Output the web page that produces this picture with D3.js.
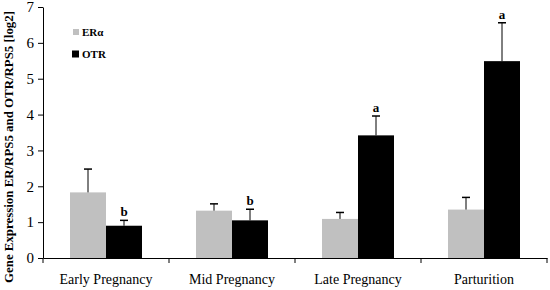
<!DOCTYPE html>
<html>
<head>
<meta charset="utf-8">
<script src="https://cdn.jsdelivr.net/npm/d3@7"></script>
<style>
  html, body { margin: 0; padding: 0; background: #fff; }
  svg text { font-family: "Liberation Serif", "DejaVu Serif", serif; }
</style>
</head>
<body>
<div id="chart"></div>
<script>
const stages = ['Early Pregnancy', 'Mid Pregnancy', 'Late Pregnancy', 'Parturition'];
const seriesNames = ['ERα', 'OTR'];
const eraMeans = [1.83, 1.32, 1.09, 1.35];
const eraErrors = [0.65, 0.19, 0.18, 0.34];
const otrMeans = [0.90, 1.05, 3.42, 5.49];
const otrErrors = [0.15, 0.31, 0.54, 1.07];
const otrLetters = ['b', 'b', 'a', 'a'];
const yTicks = [0, 1, 2, 3, 4, 5, 6, 7];

const COLORS = { 'ERα': '#c0c0c0', 'OTR': '#000000' };

const width = 550, height = 290;
const MARGIN = { top: 7, right: 3, bottom: 32, left: 43 };
const innerW = width - MARGIN.left - MARGIN.right;
const innerH = height - MARGIN.top - MARGIN.bottom;

const rows = stages.map((s, i) => ({
  stage: s,
  bars: [
    { key: 'ERα', value: eraMeans[i], err: eraErrors[i], letter: null },
    { key: 'OTR', value: otrMeans[i], err: otrErrors[i], letter: otrLetters[i] }
  ]
}));

const svg = d3.select('#chart').append('svg')
  .attr('width', width)
  .attr('height', height);

const g = svg.append('g').attr('transform', `translate(${MARGIN.left},${MARGIN.top})`);

const x0 = d3.scaleBand().domain(stages).range([0, innerW]).paddingInner(0).paddingOuter(0);
const x1 = d3.scaleBand().domain(seriesNames).range([0, 72]).padding(0);
const y = d3.scaleLinear().domain([0, 7]).range([innerH, 0]);

// bars
const groups = g.selectAll('.grp').data(rows).enter().append('g')
  .attr('transform', d => `translate(${x0(d.stage) + (x0.bandwidth() - 72) / 2},0)`);

groups.selectAll('rect').data(d => d.bars).enter().append('rect')
  .attr('x', d => x1(d.key))
  .attr('y', d => y(d.value))
  .attr('width', x1.bandwidth())
  .attr('height', d => y(0) - y(d.value))
  .attr('fill', d => COLORS[d.key]);

// error bars (upper only)
const errs = groups.selectAll('.err').data(d => d.bars).enter().append('g').attr('class', 'err');
errs.append('line')
  .attr('x1', d => x1(d.key) + x1.bandwidth() / 2)
  .attr('x2', d => x1(d.key) + x1.bandwidth() / 2)
  .attr('y1', d => y(d.value))
  .attr('y2', d => y(d.value + d.err))
  .attr('stroke', '#000').attr('stroke-width', 1);
errs.append('line')
  .attr('x1', d => x1(d.key) + x1.bandwidth() / 2 - 4)
  .attr('x2', d => x1(d.key) + x1.bandwidth() / 2 + 4)
  .attr('y1', d => y(d.value + d.err))
  .attr('y2', d => y(d.value + d.err))
  .attr('stroke', '#000').attr('stroke-width', 1.5);

// significance letters
groups.selectAll('.lt').data(d => d.bars.filter(b => b.letter)).enter().append('text')
  .attr('x', d => x1(d.key) + x1.bandwidth() / 2)
  .attr('y', d => y(d.value + d.err) - 4)
  .attr('text-anchor', 'middle')
  .style('font-size', '13px')
  .style('font-weight', 'bold')
  .text(d => d.letter);

// axes
const yAxisG = g.append('g')
  .call(d3.axisLeft(y).tickValues(yTicks).tickFormat(d3.format('d'))
    .tickSize(5).tickSizeOuter(0).tickPadding(4));
const xAxisG = g.append('g').attr('transform', `translate(0,${innerH})`)
  .call(d3.axisBottom(x0).tickSize(0).tickSizeOuter(0).tickPadding(16));

// category boundary ticks
const bounds = stages.map(s => x0(s)).concat([innerW]);
xAxisG.selectAll('.bt').data(bounds).enter().append('line')
  .attr('x1', d => d).attr('x2', d => d)
  .attr('y1', 0).attr('y2', 5)
  .attr('stroke', '#000');

[xAxisG, yAxisG].forEach(a => {
  a.selectAll('path, line').attr('stroke', '#000');
  a.selectAll('text').attr('fill', '#000')
    .style('font-family', '"Liberation Serif", serif');
});
yAxisG.selectAll('text').style('font-size', '15px');
xAxisG.selectAll('text').style('font-size', '14px');

// y title
svg.append('text')
  .attr('transform', 'translate(13,147) rotate(-90)')
  .attr('text-anchor', 'middle')
  .attr('textLength', 272)
  .attr('lengthAdjust', 'spacingAndGlyphs')
  .style('font-size', '13px')
  .style('font-weight', 'bold')
  .text('Gene Expression ER/RPS5 and OTR/RPS5 [log2]');

// legend
const legend = g.append('g').attr('transform', 'translate(29,25)');
seriesNames.forEach((name, i) => {
  const item = legend.append('g').attr('transform', `translate(0,${i * 22})`);
  const s = i === 0 ? 6 : 7;
  item.append('rect')
    .attr('x', i === 0 ? 1 : 0).attr('y', -s / 2)
    .attr('width', s).attr('height', s)
    .attr('fill', COLORS[name]);
  item.append('text')
    .attr('x', 10).attr('y', 4)
    .style('font-size', '11px')
    .style('font-weight', 'bold')
    .text(name);
});
</script>
</body>
</html>
